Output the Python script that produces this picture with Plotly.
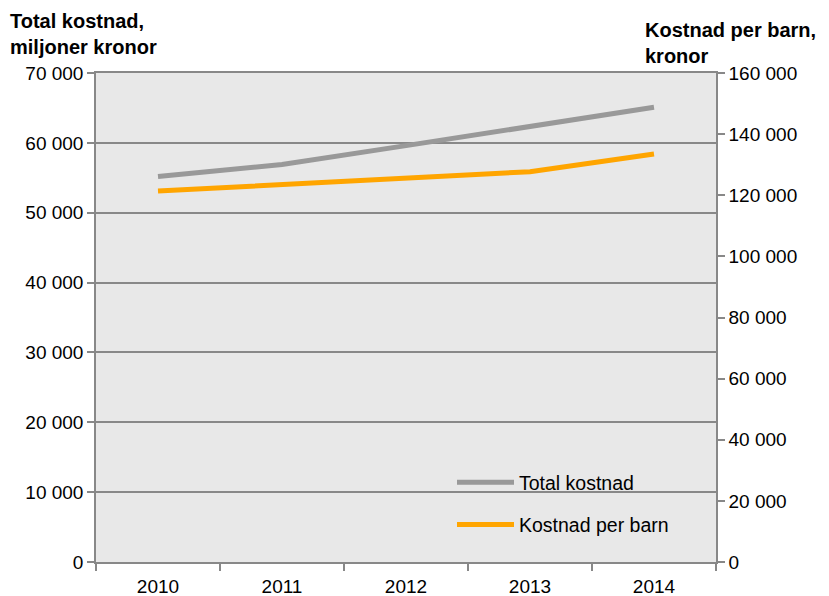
import plotly.graph_objects as go

years = ["2010", "2011", "2012", "2013", "2014"]
total_kostnad = [55200, 56900, 59600, 62300, 65100]      # miljoner kronor (left axis)
kostnad_per_barn = [121400, 123500, 125500, 127700, 133500]  # kronor (right axis)

left_ticks = [0, 10000, 20000, 30000, 40000, 50000, 60000, 70000]
right_ticks = [0, 20000, 40000, 60000, 80000, 100000, 120000, 140000, 160000]

FAM = "Liberation Sans, Arial, sans-serif"
fig = go.Figure()
fig.add_trace(go.Scatter(x=years, y=total_kostnad, name="Total kostnad", legendgroup="a",
                         mode="lines", line=dict(color="#999999", width=5)))
fig.add_trace(go.Scatter(x=years, y=kostnad_per_barn, name="Kostnad per barn", legendgroup="b",
                         mode="lines", line=dict(color="#FFA500", width=5), yaxis="y2"))

tick_font = dict(family=FAM, size=19, color="#000000")
W, H = 821, 588
L, T, PW, PH = 88, 65, 620, 489
fig.update_layout(
    width=W, height=H,
    margin=dict(l=L, r=W - L - PW, t=T, b=H - T - PH, autoexpand=False),
    paper_bgcolor="white", plot_bgcolor="#E8E8E8",
    font=tick_font,
    separators=", ",
    showlegend=True,
    legend=dict(x=(444 - L) / PW, y=(T + PH - 455) / PH, xanchor="left", yanchor="top",
                bgcolor="rgba(0,0,0,0)", font=dict(family=FAM, size=19.5, color="#000000"),
                traceorder="grouped", tracegroupgap=14, itemwidth=57),
    xaxis=dict(type="category", range=[-0.5, 4.5], tickson="boundaries",
               ticks="outside", ticklen=7, tickcolor="#888888", tickwidth=1.5,
               ticklabelstandoff=6,
               showgrid=False, showline=True, linecolor="#888888", linewidth=1.5,
               mirror=True, tickfont=tick_font),
    yaxis=dict(range=[0, 70000], tickvals=left_ticks, tickformat=",d",
               ticks="outside", ticklen=7, tickcolor="#888888", tickwidth=1.5,
               showgrid=True, gridcolor="#888888", gridwidth=1.5,
               showline=True, linecolor="#888888", linewidth=1.5,
               zeroline=False, tickfont=tick_font),
    yaxis2=dict(range=[0, 160000], tickvals=right_ticks, tickformat=",d",
                overlaying="y", side="right",
                ticks="outside", ticklen=7, tickcolor="#888888", tickwidth=1.5,
                showgrid=False, showline=True, linecolor="#888888", linewidth=1.5,
                zeroline=False, tickfont=tick_font),
)

title_font = dict(family=FAM, size=20, color="#000000")
fig.add_annotation(text="<b>Total kostnad,<br>miljoner kronor</b>", xref="paper", yref="paper",
                   x=(0 - L) / PW, y=1 + (T - 0) / PH, xanchor="left", yanchor="top", align="left",
                   showarrow=False, font=title_font)
fig.add_annotation(text="<b>Kostnad per barn,<br>kronor</b>", xref="paper", yref="paper",
                   x=(635 - L) / PW, y=1 + (T - 9) / PH, xanchor="left", yanchor="top", align="left",
                   showarrow=False, font=title_font)

fig.write_html("out.html")
